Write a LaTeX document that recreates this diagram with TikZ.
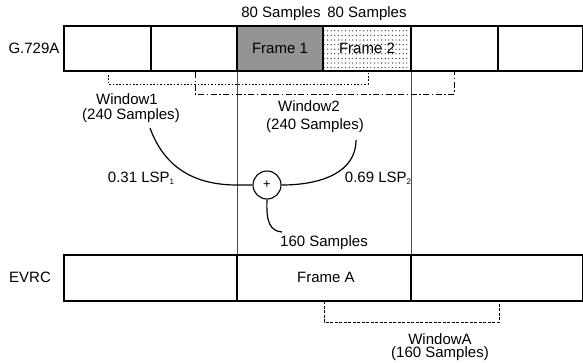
\documentclass[tikz,border=0pt]{standalone}
\usepackage{fontspec}
\setmainfont{Liberation Sans}
\usetikzlibrary{patterns}
\pgfdeclarepatternformonly{sparsedots}{\pgfqpoint{-1pt}{-1pt}}{\pgfqpoint{3pt}{4pt}}{\pgfqpoint{3.6pt}{4.6pt}}{%
  \pgfpathcircle{\pgfqpoint{0pt}{0pt}}{0.65pt}\pgfusepath{fill}}
\begin{document}
\begin{tikzpicture}[x=1pt,y=-1pt,
  bar/.style={draw=black,line width=1.3pt},
  divider/.style={draw=black,line width=1.1pt},
  guide/.style={draw=black!70,line width=0.5pt},
  lbl/.style={inner sep=0pt,font=\fontsize{15}{17}\selectfont},
  curve/.style={draw=black,line width=1.2pt},
  win1/.style={draw=black,line width=0.9pt,dash pattern=on 1.6pt off 1.8pt},
  win2/.style={draw=black,line width=0.9pt,dash pattern=on 6pt off 2.5pt on 1.5pt off 2.5pt},
  winA/.style={draw=black,line width=0.9pt,dash pattern=on 3pt off 1.5pt},
  sumnode/.style={circle,draw=black,line width=1.1pt,minimum size=28pt,inner sep=0pt,fill=white}
]
\useasboundingbox (0,0) rectangle (583,362);
% frame fills
\fill[black!42] (237,26) rectangle (323,71);
\fill[pattern=sparsedots,pattern color=black!85] (323,26) rectangle (411,71);
% guide verticals
\draw[guide] (237,71) -- (237,255);
\draw[guide] (411,71) -- (411,255);
% G.729A bar
\draw[bar] (64,26) rectangle (582.4,71);
\foreach \xx in {151,237,323,411,498} \draw[divider] (\xx,26) -- (\xx,71);
% EVRC bar
\draw[bar] (64,255) rectangle (582.4,301);
\foreach \xx in {237,411} \draw[divider] (\xx,255) -- (\xx,301);
% texts top
\node[lbl] (s80a) at (281,14) {80 Samples};
\node[lbl] (s80b) at (367,14) {80 Samples};
\node[lbl] (g729) at (34,48) {G.729A};
\node[lbl,fill=black!42,inner sep=1pt] (f1) at (280,48) {Frame 1};
\node[lbl] (f2) at (367,48) {Frame 2};
% windows
\coordinate (w1a) at (108,75);
\coordinate (w1b) at (368,73);
\draw[win1] (w1a) -- (108,84) -- (368,84) -- (w1b);
\coordinate (w2a) at (195,72);
\coordinate (w2b) at (454,72);
\draw[win2] (w2a) -- (195,94) -- (454,94) -- (w2b);
\node[lbl] (w1t) at (127,99) {Window1};
\node[lbl] (w1s) at (131,116) {(240 Samples)};
\node[lbl] (w2t) at (309,106) {Window2};
\node[lbl] (w2s) at (315,126) {(240 Samples)};
% sum
\node[sumnode] (sum) at (267,185) {\fontsize{13}{13}\selectfont +};
\coordinate (c1) at (150,128);
\coordinate (c2) at (356,140);
\coordinate (c3) at (282,232);
\draw[curve] (c1) .. controls (166,172) and (200,185) .. (237,185) -- (sum.west);
\draw[curve] (sum.east) .. controls (322,185) and (356,172) .. (c2);
\draw[curve] (sum.south) .. controls (266,222) and (270,231) .. (c3);
\node[lbl] (lsp1) at (141,178) {0.31 LSP\raisebox{-0.25ex}{\fontsize{8}{8}\selectfont 1}};
\node[lbl] (lsp2) at (378,178) {0.69 LSP\raisebox{-0.25ex}{\fontsize{8}{8}\selectfont 2}};
\node[lbl] (s160) at (324,243) {160 Samples};
% EVRC texts
\node[lbl] (evrc) at (30,277) {EVRC};
\node[lbl] (fa) at (326,277) {Frame A};
\coordinate (wAa) at (324,301);
\coordinate (wAb) at (499,301);
\draw[winA] (wAa) -- (324,322) -- (499,322) -- (wAb);
\node[lbl] (wAt) at (440,339) {WindowA};
\node[lbl] (wAs) at (440,354) {(160 Samples)};
\end{tikzpicture}
\end{document}
